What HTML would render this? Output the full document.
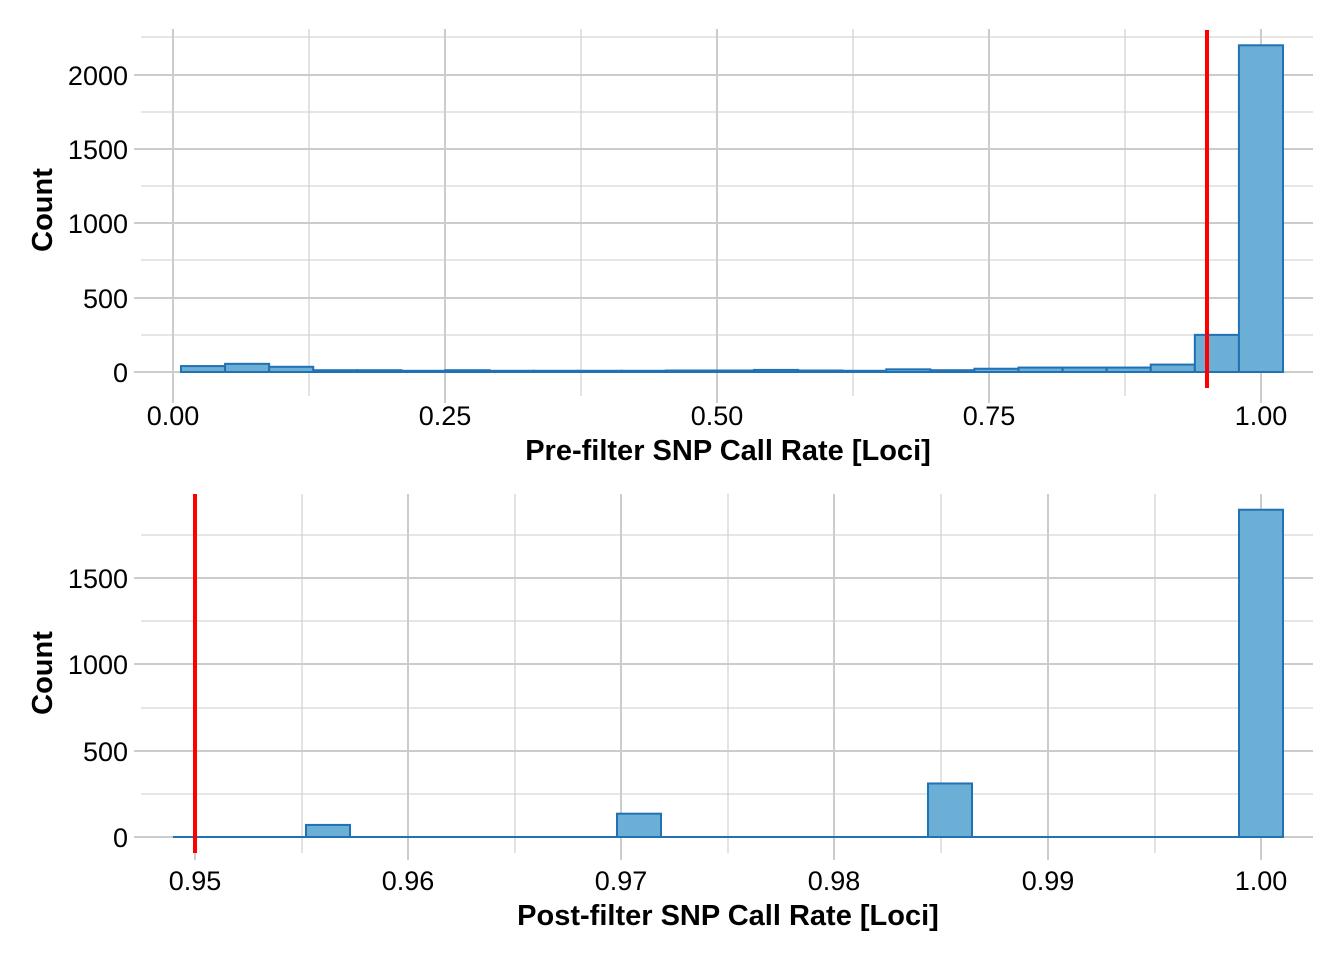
<!DOCTYPE html>
<html><head><meta charset="utf-8"><style>
html,body{margin:0;padding:0;background:#fff;}
svg{display:block;font-family:"Liberation Sans",Arial,sans-serif;}
</style></head><body>
<svg id="s" width="1344" height="960" xmlns="http://www.w3.org/2000/svg"></svg>
<script>
const s=document.getElementById('s');let h='';
function L(x1,y1,x2,y2,c,w){h+=`<line x1="${x1}" y1="${y1}" x2="${x2}" y2="${y2}" stroke="${c}" stroke-width="${w}"/>`;}
function T(x,y,t,a,sz,b){h+=`<text x="${x}" y="${y}" text-anchor="${a}" font-size="${sz}" ${b?'font-weight="bold"':''} fill="#000">${t}</text>`;}
const G='#cccccc';
let yt=29,yb=396;
[37,112,186,260,335].forEach(y=>L(141,y,1313,y,G,1.1));
[75,149,223,298,372].forEach(y=>L(134,y,1313,y,G,2));
[309,581,853,1125].forEach(x=>L(x,yt,x,yb,G,1.1));
[173,445,717,989,1261].forEach(x=>L(x,yt,x,yb+7,G,2));
const c=[40,55,35,12,12,8,12,6,6,6,6,10,10,14,10,6,18,12,22,30,30,30,50,250,2200];
const bw=44.08;
c.forEach((v,i)=>{const x=181+bw*i,hh=Math.max(v*0.1485,1.2);
h+=`<rect x="${x}" y="${372-hh}" width="${bw}" height="${hh}" fill="#6baed6" stroke="#2171b5" stroke-width="2"/>`;});
L(1207,30,1207,388,'#ff0000',4);
[[75,'2000'],[149,'1500'],[223,'1000'],[298,'500'],[372,'0']].forEach(([y,t])=>T(128,y+10,t,'end',27));
[[173,'0.00'],[445,'0.25'],[717,'0.50'],[989,'0.75'],[1261,'1.00']].forEach(([x,t])=>T(x,425,t,'middle',27));
T(728,460,'Pre-filter SNP Call Rate [Loci]','middle',29,1);
h+=`<text transform="translate(52,210) rotate(-90)" text-anchor="middle" font-size="29" font-weight="bold">Count</text>`;
yt=494;yb=860;
[535,621,708,794].forEach(y=>L(141,y,1313,y,G,1.1));
[578,664,751,837].forEach(y=>L(134,y,1313,y,G,2));
[302,515,728,941,1155].forEach(x=>L(x,yt,x,yb-7,G,1.1));
[195,408,621,834,1048,1261].forEach(x=>L(x,yt,x,yb,G,2));
L(173,837,1283,837,'#2171b5',2);
[[306,70],[617,135],[928,310],[1239,1895]].forEach(([x,v])=>{const hh=v*0.1727;
h+=`<rect x="${x}" y="${837-hh}" width="44" height="${hh}" fill="#6baed6" stroke="#2171b5" stroke-width="2"/>`;});
L(195,494,195,853,'#ff0000',4);
[[578,'1500'],[664,'1000'],[751,'500'],[837,'0']].forEach(([y,t])=>T(128,y+10,t,'end',27));
[[195,'0.95'],[408,'0.96'],[621,'0.97'],[834,'0.98'],[1048,'0.99'],[1261,'1.00']].forEach(([x,t])=>T(x,890,t,'middle',27));
T(728,925,'Post-filter SNP Call Rate [Loci]','middle',29,1);
h+=`<text transform="translate(52,673) rotate(-90)" text-anchor="middle" font-size="29" font-weight="bold">Count</text>`;
s.innerHTML=h;
</script>
</body></html>
